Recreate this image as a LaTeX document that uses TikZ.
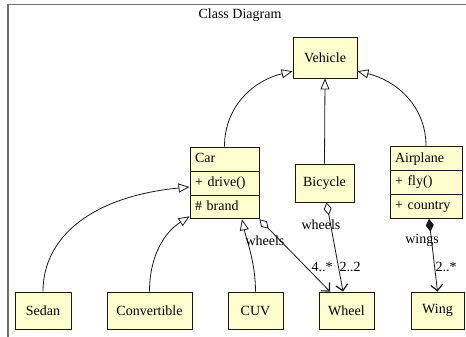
\documentclass[tikz,border=0pt]{standalone}
\usepackage{fontspec}
\setmainfont{Liberation Serif}
\usetikzlibrary{shapes.multipart, arrows.meta}
\definecolor{classfill}{HTML}{FEFECE}
\definecolor{classline}{HTML}{181818}
\definecolor{framegray}{HTML}{6E6E6E}

\begin{document}
\begin{tikzpicture}[x=1pt, y=-1pt,
  font=\fontsize{14}{17}\selectfont,
  umlbox/.style={draw=classline, fill=classfill, line width=0.9pt, inner sep=0pt},
  umlclass/.style={umlbox, rectangle split, rectangle split parts=3, align=left, inner xsep=5pt, inner ysep=3pt},
  inherit/.style={draw=classline, line width=0.8pt, -{Triangle[length=11pt, width=9pt, fill=white]}},
  aggr/.style={draw=classline, line width=0.8pt, {Diamond[length=13pt, width=8pt, fill=white]}-{Straight Barb[length=6pt, width=12pt, line width=1.2pt]}},
  compo/.style={draw=classline, line width=0.8pt, {Diamond[length=13pt, width=8pt]}-{Straight Barb[length=6pt, width=12pt, line width=1.2pt]}},
  role/.style={inner sep=0pt}]
  \useasboundingbox (0,0) rectangle (466,337);
  \draw[framegray, line width=1.2pt] (8,337) -- (8,4.5) -- (466,4.5);
  \node[role] (title) at (240,15) {Class Diagram};

  \node[umlbox, minimum width=64pt, minimum height=41pt] (vehicle) at (325,57.5) {Vehicle};
  \node[umlclass, text width=59pt] (car) at (224.5,183) {\strut Car \nodepart{two}\strut + drive() \nodepart{three}\strut \# brand};
  \node[umlbox, minimum width=59pt, minimum height=38pt] (bicycle) at (324.5,183) {Bicycle};
  \node[umlclass, text width=62pt] (airplane) at (426,182.5) {\strut Airplane \nodepart{two}\strut + fly() \nodepart{three}\strut + country};

  \node[umlbox, minimum width=56pt, minimum height=37pt] (sedan) at (43,310.5) {Sedan};
  \node[umlbox, minimum width=85pt, minimum height=37pt] (convertible) at (149.5,310.5) {Convertible};
  \node[umlbox, minimum width=55pt, minimum height=37pt] (cuv) at (255.5,310.5) {CUV};
  \node[umlbox, minimum width=55pt, minimum height=37pt] (wheel) at (346.5,310.5) {Wheel};
  \node[umlbox, minimum width=53pt, minimum height=37pt] (wing) at (437.5,310.5) {Wing};

  \draw[inherit] (car.north) .. controls (224.5,105) and (255,80) .. (vehicle.203);
  \draw[inherit] (bicycle.north) -- (vehicle.south);
  \draw[inherit] (airplane.north) .. controls (426,105) and (395,80) .. (vehicle.-23);
  \draw[inherit] (sedan.north) .. controls (43,235) and (95,196) .. ([yshift=-4pt]car.two west);
  \draw[inherit] (convertible.north) .. controls (149.5,255) and (165,232) .. ([yshift=3pt]car.south west);
  \draw[inherit] (cuv.north) .. controls (255.5,262) and (246,238) .. ([xshift=17.5pt]car.south);

  \draw[aggr] (car.south east) -- ([xshift=-16.5pt]wheel.north);
  \draw[aggr] ([xshift=2pt]bicycle.south) -- ([xshift=-3.5pt]wheel.north);
  \draw[compo] ([xshift=3pt]airplane.south) -- (wing.north);

  \node[role] (carwheels) at (265,241) {wheels};
  \node[role] (carmult) at (322,267) {4..*};
  \node[role] (bikewheels) at (321,225) {wheels};
  \node[role] (bikemult) at (350,267) {2..2};
  \node[role] (planewings) at (422,240) {wings};
  \node[role] (planemult) at (446,267) {2..*};
\end{tikzpicture}
\end{document}
